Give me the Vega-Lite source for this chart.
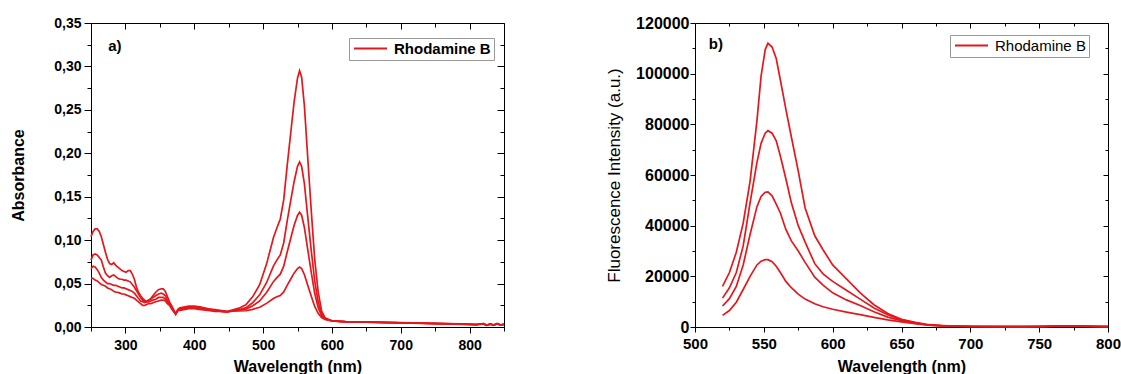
{
  "$schema": "https://vega.github.io/schema/vega-lite/v6.json",
  "padding": {"left": 10, "top": 15, "right": 0, "bottom": 0},
  "config": {
    "font": "Liberation Sans",
    "view": {"stroke": null},
    "axis": {"grid": false, "domainColor": "black", "domainWidth": 1, "tickColor": "black", "tickWidth": 1, "labelColor": "black", "titleColor": "black", "labelFont": "Liberation Sans", "titleFont": "Liberation Sans"}
  },
  "datasets": {
    "abs": [
      {"c":1,"nm":250,"A":0.104},{"c":1,"nm":253,"A":0.110},{"c":1,"nm":256,"A":0.113},{"c":1,"nm":259,"A":0.113},{"c":1,"nm":262,"A":0.110},{"c":1,"nm":265,"A":0.104},{"c":1,"nm":268,"A":0.095},{"c":1,"nm":271,"A":0.086},{"c":1,"nm":274,"A":0.078},{"c":1,"nm":277,"A":0.073},{"c":1,"nm":280,"A":0.072},{"c":1,"nm":283,"A":0.074},{"c":1,"nm":286,"A":0.071},{"c":1,"nm":289,"A":0.069},{"c":1,"nm":292,"A":0.067},{"c":1,"nm":295,"A":0.065},{"c":1,"nm":298,"A":0.064},{"c":1,"nm":301,"A":0.063},{"c":1,"nm":304,"A":0.065},{"c":1,"nm":307,"A":0.065},{"c":1,"nm":310,"A":0.061},{"c":1,"nm":313,"A":0.055},{"c":1,"nm":316,"A":0.046},{"c":1,"nm":319,"A":0.040},{"c":1,"nm":322,"A":0.036},{"c":1,"nm":325,"A":0.033},{"c":1,"nm":328,"A":0.031},{"c":1,"nm":331,"A":0.029},{"c":1,"nm":334,"A":0.031},{"c":1,"nm":337,"A":0.033},{"c":1,"nm":340,"A":0.036},{"c":1,"nm":344,"A":0.040},{"c":1,"nm":348,"A":0.043},{"c":1,"nm":352,"A":0.044},{"c":1,"nm":355,"A":0.044},{"c":1,"nm":358,"A":0.041},{"c":1,"nm":361,"A":0.035},{"c":1,"nm":364,"A":0.029},{"c":1,"nm":367,"A":0.025},{"c":1,"nm":370,"A":0.020},{"c":1,"nm":373,"A":0.015},{"c":1,"nm":376,"A":0.020},{"c":1,"nm":379,"A":0.022},{"c":1,"nm":385,"A":0.023},{"c":1,"nm":392,"A":0.024},{"c":1,"nm":400,"A":0.024},{"c":1,"nm":410,"A":0.023},{"c":1,"nm":420,"A":0.021},{"c":1,"nm":430,"A":0.020},{"c":1,"nm":440,"A":0.019},{"c":1,"nm":448,"A":0.018},{"c":1,"nm":455,"A":0.0194},{"c":1,"nm":465,"A":0.0217},{"c":1,"nm":475,"A":0.0255},{"c":1,"nm":485,"A":0.035},{"c":1,"nm":495,"A":0.0487},{"c":1,"nm":505,"A":0.0724},{"c":1,"nm":515,"A":0.1027},{"c":1,"nm":520,"A":0.1139},{"c":1,"nm":525,"A":0.1244},{"c":1,"nm":530,"A":0.1466},{"c":1,"nm":535,"A":0.1858},{"c":1,"nm":540,"A":0.2222},{"c":1,"nm":545,"A":0.2586},{"c":1,"nm":550,"A":0.2865},{"c":1,"nm":553,"A":0.295},{"c":1,"nm":556,"A":0.2877},{"c":1,"nm":560,"A":0.2548},{"c":1,"nm":565,"A":0.1935},{"c":1,"nm":570,"A":0.1337},{"c":1,"nm":575,"A":0.0779},{"c":1,"nm":580,"A":0.0405},{"c":1,"nm":585,"A":0.0187},{"c":1,"nm":590,"A":0.0105},{"c":1,"nm":600,"A":0.007},{"c":1,"nm":620,"A":0.0062},{"c":1,"nm":650,"A":0.0058},{"c":1,"nm":680,"A":0.0054},{"c":1,"nm":700,"A":0.005},{"c":1,"nm":730,"A":0.0045},{"c":1,"nm":760,"A":0.004},{"c":1,"nm":790,"A":0.0035},{"c":1,"nm":810,"A":0.003},{"c":1,"nm":820,"A":0.004},{"c":1,"nm":825,"A":0.002},{"c":1,"nm":830,"A":0.0035},{"c":1,"nm":835,"A":0.002},{"c":1,"nm":840,"A":0.004},{"c":1,"nm":845,"A":0.0025},{"c":1,"nm":850,"A":0.003},
      {"c":2,"nm":250,"A":0.077},{"c":2,"nm":253,"A":0.083},{"c":2,"nm":256,"A":0.084},{"c":2,"nm":259,"A":0.083},{"c":2,"nm":262,"A":0.080},{"c":2,"nm":265,"A":0.077},{"c":2,"nm":268,"A":0.069},{"c":2,"nm":271,"A":0.062},{"c":2,"nm":274,"A":0.059},{"c":2,"nm":277,"A":0.057},{"c":2,"nm":280,"A":0.059},{"c":2,"nm":283,"A":0.060},{"c":2,"nm":286,"A":0.058},{"c":2,"nm":289,"A":0.056},{"c":2,"nm":292,"A":0.055},{"c":2,"nm":295,"A":0.055},{"c":2,"nm":298,"A":0.054},{"c":2,"nm":301,"A":0.054},{"c":2,"nm":304,"A":0.053},{"c":2,"nm":307,"A":0.052},{"c":2,"nm":310,"A":0.049},{"c":2,"nm":313,"A":0.046},{"c":2,"nm":316,"A":0.042},{"c":2,"nm":319,"A":0.038},{"c":2,"nm":322,"A":0.034},{"c":2,"nm":325,"A":0.031},{"c":2,"nm":328,"A":0.029},{"c":2,"nm":331,"A":0.030},{"c":2,"nm":334,"A":0.031},{"c":2,"nm":337,"A":0.032},{"c":2,"nm":340,"A":0.034},{"c":2,"nm":344,"A":0.036},{"c":2,"nm":348,"A":0.038},{"c":2,"nm":352,"A":0.039},{"c":2,"nm":355,"A":0.038},{"c":2,"nm":358,"A":0.036},{"c":2,"nm":361,"A":0.031},{"c":2,"nm":364,"A":0.027},{"c":2,"nm":367,"A":0.023},{"c":2,"nm":370,"A":0.019},{"c":2,"nm":373,"A":0.015},{"c":2,"nm":376,"A":0.019},{"c":2,"nm":379,"A":0.021},{"c":2,"nm":385,"A":0.022},{"c":2,"nm":392,"A":0.023},{"c":2,"nm":400,"A":0.023},{"c":2,"nm":410,"A":0.022},{"c":2,"nm":420,"A":0.021},{"c":2,"nm":430,"A":0.019},{"c":2,"nm":440,"A":0.018},{"c":2,"nm":448,"A":0.0175},{"c":2,"nm":455,"A":0.019},{"c":2,"nm":465,"A":0.020},{"c":2,"nm":475,"A":0.022},{"c":2,"nm":485,"A":0.028},{"c":2,"nm":495,"A":0.037},{"c":2,"nm":505,"A":0.051},{"c":2,"nm":515,"A":0.070},{"c":2,"nm":520,"A":0.077},{"c":2,"nm":525,"A":0.083},{"c":2,"nm":530,"A":0.097},{"c":2,"nm":535,"A":0.122},{"c":2,"nm":540,"A":0.145},{"c":2,"nm":545,"A":0.167},{"c":2,"nm":550,"A":0.185},{"c":2,"nm":553,"A":0.190},{"c":2,"nm":556,"A":0.185},{"c":2,"nm":560,"A":0.165},{"c":2,"nm":565,"A":0.126},{"c":2,"nm":570,"A":0.088},{"c":2,"nm":575,"A":0.053},{"c":2,"nm":580,"A":0.029},{"c":2,"nm":585,"A":0.015},{"c":2,"nm":590,"A":0.0096},{"c":2,"nm":600,"A":0.007},{"c":2,"nm":620,"A":0.0061},{"c":2,"nm":650,"A":0.0057},{"c":2,"nm":680,"A":0.0052},{"c":2,"nm":700,"A":0.0049},{"c":2,"nm":730,"A":0.0044},{"c":2,"nm":760,"A":0.0039},{"c":2,"nm":790,"A":0.0033},{"c":2,"nm":810,"A":0.0028},{"c":2,"nm":820,"A":0.0038},{"c":2,"nm":825,"A":0.0022},{"c":2,"nm":830,"A":0.0032},{"c":2,"nm":835,"A":0.0024},{"c":2,"nm":840,"A":0.0036},{"c":2,"nm":845,"A":0.0022},{"c":2,"nm":850,"A":0.0032},
      {"c":3,"nm":250,"A":0.067},{"c":3,"nm":253,"A":0.070},{"c":3,"nm":256,"A":0.069},{"c":3,"nm":259,"A":0.066},{"c":3,"nm":262,"A":0.062},{"c":3,"nm":265,"A":0.057},{"c":3,"nm":268,"A":0.054},{"c":3,"nm":271,"A":0.052},{"c":3,"nm":274,"A":0.050},{"c":3,"nm":277,"A":0.050},{"c":3,"nm":280,"A":0.049},{"c":3,"nm":283,"A":0.048},{"c":3,"nm":286,"A":0.048},{"c":3,"nm":289,"A":0.047},{"c":3,"nm":292,"A":0.046},{"c":3,"nm":295,"A":0.045},{"c":3,"nm":298,"A":0.045},{"c":3,"nm":301,"A":0.044},{"c":3,"nm":304,"A":0.043},{"c":3,"nm":307,"A":0.042},{"c":3,"nm":310,"A":0.041},{"c":3,"nm":313,"A":0.039},{"c":3,"nm":316,"A":0.036},{"c":3,"nm":319,"A":0.033},{"c":3,"nm":322,"A":0.030},{"c":3,"nm":325,"A":0.029},{"c":3,"nm":328,"A":0.028},{"c":3,"nm":331,"A":0.029},{"c":3,"nm":334,"A":0.029},{"c":3,"nm":337,"A":0.030},{"c":3,"nm":340,"A":0.031},{"c":3,"nm":344,"A":0.032},{"c":3,"nm":348,"A":0.034},{"c":3,"nm":352,"A":0.034},{"c":3,"nm":355,"A":0.034},{"c":3,"nm":358,"A":0.032},{"c":3,"nm":361,"A":0.029},{"c":3,"nm":364,"A":0.026},{"c":3,"nm":367,"A":0.022},{"c":3,"nm":370,"A":0.018},{"c":3,"nm":373,"A":0.015},{"c":3,"nm":376,"A":0.019},{"c":3,"nm":379,"A":0.020},{"c":3,"nm":385,"A":0.021},{"c":3,"nm":392,"A":0.022},{"c":3,"nm":400,"A":0.022},{"c":3,"nm":410,"A":0.021},{"c":3,"nm":420,"A":0.020},{"c":3,"nm":430,"A":0.019},{"c":3,"nm":440,"A":0.018},{"c":3,"nm":448,"A":0.0175},{"c":3,"nm":455,"A":0.0186},{"c":3,"nm":465,"A":0.0193},{"c":3,"nm":475,"A":0.0206},{"c":3,"nm":485,"A":0.0244},{"c":3,"nm":495,"A":0.030},{"c":3,"nm":505,"A":0.0398},{"c":3,"nm":515,"A":0.0522},{"c":3,"nm":520,"A":0.0568},{"c":3,"nm":525,"A":0.0608},{"c":3,"nm":530,"A":0.070},{"c":3,"nm":535,"A":0.0864},{"c":3,"nm":540,"A":0.1016},{"c":3,"nm":545,"A":0.1168},{"c":3,"nm":550,"A":0.1284},{"c":3,"nm":553,"A":0.132},{"c":3,"nm":556,"A":0.1288},{"c":3,"nm":560,"A":0.1146},{"c":3,"nm":565,"A":0.0884},{"c":3,"nm":570,"A":0.0628},{"c":3,"nm":575,"A":0.0388},{"c":3,"nm":580,"A":0.0226},{"c":3,"nm":585,"A":0.013},{"c":3,"nm":590,"A":0.0092},{"c":3,"nm":600,"A":0.007},{"c":3,"nm":620,"A":0.006},{"c":3,"nm":650,"A":0.0056},{"c":3,"nm":680,"A":0.0051},{"c":3,"nm":700,"A":0.0048},{"c":3,"nm":730,"A":0.0043},{"c":3,"nm":760,"A":0.0038},{"c":3,"nm":790,"A":0.0032},{"c":3,"nm":810,"A":0.0027},{"c":3,"nm":820,"A":0.0036},{"c":3,"nm":825,"A":0.002},{"c":3,"nm":830,"A":0.0034},{"c":3,"nm":835,"A":0.0021},{"c":3,"nm":840,"A":0.0038},{"c":3,"nm":845,"A":0.0024},{"c":3,"nm":850,"A":0.003},
      {"c":4,"nm":250,"A":0.056},{"c":4,"nm":253,"A":0.056},{"c":4,"nm":256,"A":0.054},{"c":4,"nm":259,"A":0.053},{"c":4,"nm":262,"A":0.051},{"c":4,"nm":265,"A":0.049},{"c":4,"nm":268,"A":0.048},{"c":4,"nm":271,"A":0.047},{"c":4,"nm":274,"A":0.045},{"c":4,"nm":277,"A":0.044},{"c":4,"nm":280,"A":0.043},{"c":4,"nm":283,"A":0.041},{"c":4,"nm":286,"A":0.040},{"c":4,"nm":289,"A":0.040},{"c":4,"nm":292,"A":0.039},{"c":4,"nm":295,"A":0.038},{"c":4,"nm":298,"A":0.038},{"c":4,"nm":301,"A":0.037},{"c":4,"nm":304,"A":0.036},{"c":4,"nm":307,"A":0.035},{"c":4,"nm":310,"A":0.034},{"c":4,"nm":313,"A":0.033},{"c":4,"nm":316,"A":0.031},{"c":4,"nm":319,"A":0.029},{"c":4,"nm":322,"A":0.027},{"c":4,"nm":325,"A":0.025},{"c":4,"nm":328,"A":0.025},{"c":4,"nm":331,"A":0.026},{"c":4,"nm":334,"A":0.027},{"c":4,"nm":337,"A":0.027},{"c":4,"nm":340,"A":0.028},{"c":4,"nm":344,"A":0.029},{"c":4,"nm":348,"A":0.030},{"c":4,"nm":352,"A":0.031},{"c":4,"nm":355,"A":0.031},{"c":4,"nm":358,"A":0.030},{"c":4,"nm":361,"A":0.027},{"c":4,"nm":364,"A":0.025},{"c":4,"nm":367,"A":0.021},{"c":4,"nm":370,"A":0.018},{"c":4,"nm":373,"A":0.015},{"c":4,"nm":376,"A":0.019},{"c":4,"nm":379,"A":0.019},{"c":4,"nm":385,"A":0.020},{"c":4,"nm":392,"A":0.021},{"c":4,"nm":400,"A":0.021},{"c":4,"nm":410,"A":0.020},{"c":4,"nm":420,"A":0.019},{"c":4,"nm":430,"A":0.018},{"c":4,"nm":440,"A":0.018},{"c":4,"nm":448,"A":0.0175},{"c":4,"nm":455,"A":0.0183},{"c":4,"nm":465,"A":0.0184},{"c":4,"nm":475,"A":0.0187},{"c":4,"nm":485,"A":0.0203},{"c":4,"nm":495,"A":0.0228},{"c":4,"nm":505,"A":0.0272},{"c":4,"nm":515,"A":0.0327},{"c":4,"nm":520,"A":0.0348},{"c":4,"nm":525,"A":0.0362},{"c":4,"nm":530,"A":0.0404},{"c":4,"nm":535,"A":0.048},{"c":4,"nm":540,"A":0.055},{"c":4,"nm":545,"A":0.062},{"c":4,"nm":550,"A":0.0673},{"c":4,"nm":553,"A":0.069},{"c":4,"nm":556,"A":0.0674},{"c":4,"nm":560,"A":0.0604},{"c":4,"nm":565,"A":0.0478},{"c":4,"nm":570,"A":0.0354},{"c":4,"nm":575,"A":0.0237},{"c":4,"nm":580,"A":0.0157},{"c":4,"nm":585,"A":0.0108},{"c":4,"nm":590,"A":0.0087},{"c":4,"nm":600,"A":0.007},{"c":4,"nm":620,"A":0.006},{"c":4,"nm":650,"A":0.0055},{"c":4,"nm":680,"A":0.005},{"c":4,"nm":700,"A":0.0047},{"c":4,"nm":730,"A":0.0042},{"c":4,"nm":760,"A":0.0037},{"c":4,"nm":790,"A":0.0031},{"c":4,"nm":810,"A":0.0026},{"c":4,"nm":820,"A":0.0035},{"c":4,"nm":825,"A":0.0019},{"c":4,"nm":830,"A":0.0033},{"c":4,"nm":835,"A":0.0023},{"c":4,"nm":840,"A":0.0037},{"c":4,"nm":845,"A":0.0021},{"c":4,"nm":850,"A":0.0031}
    ],
    "fl": [
      {"c":1,"nm":520,"I":16000},{"c":1,"nm":525,"I":21500},{"c":1,"nm":530,"I":29500},{"c":1,"nm":535,"I":41000},{"c":1,"nm":540,"I":57500},{"c":1,"nm":545,"I":81500},{"c":1,"nm":548,"I":99000},{"c":1,"nm":551,"I":109500},{"c":1,"nm":553,"I":112000},{"c":1,"nm":556,"I":110500},{"c":1,"nm":559,"I":106000},{"c":1,"nm":562,"I":97500},{"c":1,"nm":566,"I":86000},{"c":1,"nm":570,"I":75000},{"c":1,"nm":575,"I":61500},{"c":1,"nm":580,"I":47000},{"c":1,"nm":587,"I":36000},{"c":1,"nm":593,"I":30500},{"c":1,"nm":600,"I":24500},{"c":1,"nm":610,"I":19000},{"c":1,"nm":620,"I":13500},{"c":1,"nm":630,"I":8800},{"c":1,"nm":640,"I":5300},{"c":1,"nm":650,"I":3000},{"c":1,"nm":660,"I":1800},{"c":1,"nm":670,"I":900},{"c":1,"nm":680,"I":600},{"c":1,"nm":690,"I":400},{"c":1,"nm":700,"I":250},{"c":1,"nm":720,"I":200},{"c":1,"nm":740,"I":150},{"c":1,"nm":755,"I":250},{"c":1,"nm":765,"I":500},{"c":1,"nm":775,"I":450},{"c":1,"nm":790,"I":250},{"c":1,"nm":800,"I":150},
      {"c":2,"nm":520,"I":11400},{"c":2,"nm":525,"I":15500},{"c":2,"nm":530,"I":21500},{"c":2,"nm":535,"I":32000},{"c":2,"nm":540,"I":49000},{"c":2,"nm":545,"I":65000},{"c":2,"nm":548,"I":72500},{"c":2,"nm":551,"I":76500},{"c":2,"nm":553,"I":77500},{"c":2,"nm":556,"I":76500},{"c":2,"nm":559,"I":73500},{"c":2,"nm":562,"I":67500},{"c":2,"nm":566,"I":58500},{"c":2,"nm":570,"I":49000},{"c":2,"nm":575,"I":40000},{"c":2,"nm":580,"I":33500},{"c":2,"nm":587,"I":25000},{"c":2,"nm":593,"I":21000},{"c":2,"nm":600,"I":18000},{"c":2,"nm":610,"I":14500},{"c":2,"nm":620,"I":11000},{"c":2,"nm":630,"I":7500},{"c":2,"nm":640,"I":4800},{"c":2,"nm":650,"I":2800},{"c":2,"nm":660,"I":1600},{"c":2,"nm":670,"I":800},{"c":2,"nm":680,"I":500},{"c":2,"nm":690,"I":350},{"c":2,"nm":700,"I":250},{"c":2,"nm":720,"I":200},{"c":2,"nm":740,"I":150},{"c":2,"nm":755,"I":250},{"c":2,"nm":765,"I":450},{"c":2,"nm":775,"I":400},{"c":2,"nm":790,"I":250},{"c":2,"nm":800,"I":150},
      {"c":3,"nm":520,"I":8300},{"c":3,"nm":525,"I":11200},{"c":3,"nm":530,"I":16000},{"c":3,"nm":535,"I":24500},{"c":3,"nm":540,"I":36500},{"c":3,"nm":545,"I":47500},{"c":3,"nm":548,"I":51500},{"c":3,"nm":551,"I":53200},{"c":3,"nm":553,"I":53300},{"c":3,"nm":556,"I":51800},{"c":3,"nm":559,"I":48500},{"c":3,"nm":562,"I":45000},{"c":3,"nm":566,"I":38500},{"c":3,"nm":570,"I":34000},{"c":3,"nm":575,"I":30000},{"c":3,"nm":580,"I":25500},{"c":3,"nm":587,"I":19700},{"c":3,"nm":593,"I":16500},{"c":3,"nm":600,"I":13500},{"c":3,"nm":610,"I":10700},{"c":3,"nm":620,"I":8500},{"c":3,"nm":630,"I":6000},{"c":3,"nm":640,"I":3900},{"c":3,"nm":650,"I":2500},{"c":3,"nm":660,"I":1400},{"c":3,"nm":670,"I":700},{"c":3,"nm":680,"I":450},{"c":3,"nm":690,"I":300},{"c":3,"nm":700,"I":200},{"c":3,"nm":720,"I":150},{"c":3,"nm":740,"I":150},{"c":3,"nm":755,"I":250},{"c":3,"nm":765,"I":400},{"c":3,"nm":775,"I":400},{"c":3,"nm":790,"I":200},{"c":3,"nm":800,"I":150},
      {"c":4,"nm":520,"I":4600},{"c":4,"nm":525,"I":6500},{"c":4,"nm":530,"I":9800},{"c":4,"nm":535,"I":14800},{"c":4,"nm":540,"I":20000},{"c":4,"nm":545,"I":24500},{"c":4,"nm":548,"I":26000},{"c":4,"nm":551,"I":26600},{"c":4,"nm":553,"I":26600},{"c":4,"nm":556,"I":25800},{"c":4,"nm":559,"I":24000},{"c":4,"nm":562,"I":21500},{"c":4,"nm":566,"I":18000},{"c":4,"nm":570,"I":15500},{"c":4,"nm":575,"I":13000},{"c":4,"nm":580,"I":11000},{"c":4,"nm":587,"I":9200},{"c":4,"nm":593,"I":8000},{"c":4,"nm":600,"I":7000},{"c":4,"nm":610,"I":5900},{"c":4,"nm":620,"I":4900},{"c":4,"nm":630,"I":3800},{"c":4,"nm":640,"I":2800},{"c":4,"nm":650,"I":2000},{"c":4,"nm":660,"I":1300},{"c":4,"nm":670,"I":700},{"c":4,"nm":680,"I":400},{"c":4,"nm":690,"I":300},{"c":4,"nm":700,"I":200},{"c":4,"nm":720,"I":150},{"c":4,"nm":740,"I":150},{"c":4,"nm":755,"I":250},{"c":4,"nm":765,"I":400},{"c":4,"nm":775,"I":350},{"c":4,"nm":790,"I":200},{"c":4,"nm":800,"I":150}
    ]
  },
  "hconcat": [
    {
      "width": 413,
      "height": 304,
      "layer": [
        {
          "data": {"name": "abs"},
          "mark": {"type": "line", "strokeWidth": 1.7, "interpolate": "linear"},
          "encoding": {
            "x": {"field": "nm", "type": "quantitative", "scale": {"domain": [250, 850], "nice": false, "zero": false},
              "axis": {"orient": "bottom", "title": "Wavelength (nm)", "titleFontSize": 16, "titleFontWeight": "bold", "titlePadding": 6,
                "values": [250,300,350,400,450,500,550,600,650,700,750,800,850],
                "labelExpr": "datum.value % 100 === 0 ? datum.value : ''",
                "labelFontSize": 14, "labelFontWeight": "bold", "labelPadding": 5, "labelFlush": false,
                "tickSize": {"condition": {"test": "datum.value % 100 === 0", "value": 6}, "value": 4}}},
            "y": {"field": "A", "type": "quantitative", "scale": {"domain": [0, 0.35], "nice": false},
              "axis": {"orient": "left", "title": "Absorbance", "titleFontSize": 16, "titleFontWeight": "bold", "titlePadding": 27,
                "values": [0,0.025,0.05,0.075,0.1,0.125,0.15,0.175,0.2,0.225,0.25,0.275,0.3,0.325,0.35],
                "labelExpr": "round(datum.value*1000) % 50 === 0 ? replace(format(datum.value, '.2f'), '.', ',') : ''",
                "labelFontSize": 14, "labelFontWeight": "bold", "labelPadding": 3, "labelFlush": false,
                "tickSize": {"condition": {"test": "round(datum.value*1000) % 50 === 0", "value": 7}, "value": 4}}},
            "color": {"datum": "Rhodamine B", "type": "nominal", "scale": {"range": ["#e4181c"]},
              "legend": {"orient": "none", "legendX": 258, "legendY": 15, "title": null, "symbolType": "M-1,0H5", "symbolSize": 121, "symbolStrokeWidth": 2, "strokeColor": "#999999", "fillColor": "white", "padding": 3, "labelFontSize": 15, "labelFontWeight": "bold", "labelFont": "Liberation Sans", "labelColor": "black", "labelOffset": 27}},
            "detail": {"field": "c", "type": "nominal"}
          }
        },
        {
          "data": {"values": [{"nm": 250, "A": 0}]},
          "mark": {"type": "point", "opacity": 0},
          "encoding": {
            "x": {"field": "nm", "type": "quantitative",
              "axis": {"orient": "top", "title": null, "labels": false, "values": [250,300,350,400,450,500,550,600,650,700,750,800,850],
                "tickSize": {"condition": {"test": "datum.value % 100 === 0", "value": -6}, "value": -4}}},
            "y": {"field": "A", "type": "quantitative",
              "axis": {"orient": "right", "title": null, "labels": false, "values": [0,0.025,0.05,0.075,0.1,0.125,0.15,0.175,0.2,0.225,0.25,0.275,0.3,0.325,0.35],
                "tickSize": {"condition": {"test": "round(datum.value*1000) % 50 === 0", "value": -7}, "value": -4}}}
          }
        },
        {
          "data": {"values": [{"label": "a)"}]},
          "mark": {"type": "text", "align": "left", "baseline": "middle", "fontSize": 15, "fontWeight": "bold", "font": "Liberation Sans", "color": "black"},
          "encoding": {
            "x": {"datum": 275, "type": "quantitative", "axis": null},
            "y": {"datum": 0.324, "type": "quantitative", "axis": null},
            "text": {"field": "label"}
          }
        }
      ],
      "resolve": {"axis": {"x": "independent", "y": "independent"}}
    },
    {
      "width": 413,
      "height": 304,
      "layer": [
        {
          "data": {"name": "fl"},
          "mark": {"type": "line", "strokeWidth": 1.7, "interpolate": "linear"},
          "encoding": {
            "x": {"field": "nm", "type": "quantitative", "scale": {"domain": [500, 800], "nice": false, "zero": false},
              "axis": {"orient": "bottom", "title": "Wavelength (nm)", "titleFontSize": 16, "titleFontWeight": "bold", "titlePadding": 7,
                "values": [500,525,550,575,600,625,650,675,700,725,750,775,800],
                "labelExpr": "datum.value % 50 === 0 ? datum.value : ''",
                "labelFontSize": 15, "labelFontWeight": "bold", "labelPadding": 4, "labelFlush": false,
                "tickSize": {"condition": {"test": "datum.value % 50 === 0", "value": 5}, "value": 3}}},
            "y": {"field": "I", "type": "quantitative", "scale": {"domain": [0, 120000], "nice": false},
              "axis": {"orient": "left", "title": "Fluorescence Intensity (a.u.)", "titleFontSize": 17, "titleFontWeight": "normal", "titlePadding": 12,
                "values": [0,10000,20000,30000,40000,50000,60000,70000,80000,90000,100000,110000,120000],
                "labelExpr": "datum.value % 20000 === 0 ? format(datum.value, 'd') : ''",
                "labelFontSize": 16, "labelFontWeight": "bold", "labelPadding": 1, "labelFlush": false,
                "tickSize": {"condition": {"test": "datum.value % 20000 === 0", "value": 5}, "value": 3}}},
            "color": {"datum": "Rhodamine B", "type": "nominal", "scale": {"range": ["#e4181c"]},
              "legend": {"orient": "none", "legendX": 255, "legendY": 12, "title": null, "symbolType": "M-1,0H5", "symbolSize": 121, "symbolStrokeWidth": 2, "strokeColor": "#999999", "fillColor": "white", "padding": 3, "labelFontSize": 15, "labelFontWeight": "normal", "labelFont": "Liberation Sans", "labelColor": "black", "labelOffset": 27}},
            "detail": {"field": "c", "type": "nominal"}
          }
        },
        {
          "data": {"values": [{"nm": 500, "I": 0}]},
          "mark": {"type": "point", "opacity": 0},
          "encoding": {
            "x": {"field": "nm", "type": "quantitative",
              "axis": {"orient": "top", "title": null, "labels": false, "values": [500,525,550,575,600,625,650,675,700,725,750,775,800],
                "tickSize": {"condition": {"test": "datum.value % 50 === 0", "value": -5}, "value": -3}}},
            "y": {"field": "I", "type": "quantitative",
              "axis": {"orient": "right", "title": null, "labels": false, "values": [0,10000,20000,30000,40000,50000,60000,70000,80000,90000,100000,110000,120000],
                "tickSize": {"condition": {"test": "datum.value % 20000 === 0", "value": -5}, "value": -3}}}
          }
        },
        {
          "data": {"values": [{"label": "b)"}]},
          "mark": {"type": "text", "align": "left", "baseline": "middle", "fontSize": 15, "fontWeight": "bold", "font": "Liberation Sans", "color": "black"},
          "encoding": {
            "x": {"datum": 510, "type": "quantitative", "axis": null},
            "y": {"datum": 111800, "type": "quantitative", "axis": null},
            "text": {"field": "label"}
          }
        }
      ],
      "resolve": {"axis": {"x": "independent", "y": "independent"}}
    }
  ],
  "spacing": 97,
  "resolve": {"scale": {"color": "independent"}, "legend": {"color": "independent"}}
}
